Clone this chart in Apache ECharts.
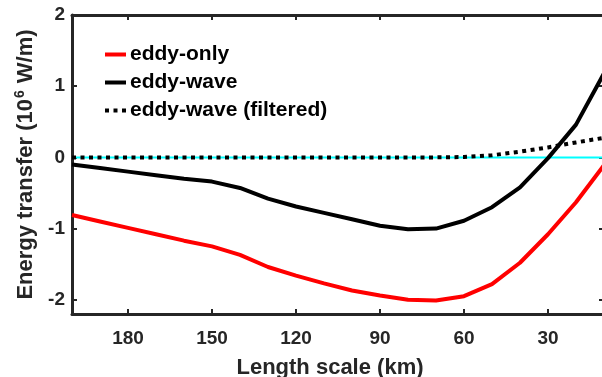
<!DOCTYPE html>
<html>
<head>
<meta charset="utf-8">
<script src="https://cdn.jsdelivr.net/npm/echarts@6/dist/echarts.min.js"></script>
<style>
  html, body { margin: 0; padding: 0; background: #fff; }
  #chart { width: 602px; height: 377px; }
</style>
</head>
<body>
<div id="chart"></div>
<script>
// length scale (km)
const lengthKm = [200, 190, 180, 170, 160, 150, 140, 130, 120, 110, 100, 90, 80, 70, 60, 50, 40, 30, 20, 10]
const eddyOnly = [-0.81, -0.90, -0.99, -1.08, -1.17, -1.25, -1.37, -1.54, -1.66, -1.77, -1.87, -1.94, -2.00, -2.01, -1.95, -1.78, -1.48, -1.08, -0.63, -0.11]
const eddyWave = [-0.10, -0.15, -0.20, -0.25, -0.30, -0.34, -0.43, -0.58, -0.69, -0.78, -0.87, -0.96, -1.01, -1.00, -0.89, -0.70, -0.42, -0.01, 0.46, 1.18]
const eddyWaveFiltered = [0, 0, 0, 0, 0, 0, 0, 0, 0, 0, 0, 0, 0, 0, 0.005, 0.03, 0.08, 0.14, 0.21, 0.275]
const zeroLine = [0, 0, 0, 0, 0, 0, 0, 0, 0, 0, 0, 0, 0, 0, 0, 0, 0, 0, 0, 0]

const xTicks = [180, 150, 120, 90, 60, 30]
const yTicks = [-2, -1, 0, 1, 2]

const axisColor = '#262626'
const font = '"Liberation Sans", Arial, sans-serif'

const pairs = (ys) => lengthKm.map((x, i) => [x, ys[i]])

const chart = echarts.init(document.getElementById('chart'))

const frameLine = { show: true, onZero: false, lineStyle: { color: axisColor, width: 3 } }
const innerTick = (vals) => ({
  show: true,
  inside: true,
  length: 5,
  customValues: vals,
  lineStyle: { color: axisColor, width: 2 },
})

const option = {
  animation: false,
  textStyle: { fontFamily: font },
  grid: { left: 72, right: -2, top: 15, bottom: 63, containLabel: false, outerBoundsMode: 'none' },
  legend: {
    orient: 'vertical',
    left: 103,
    top: 43,
    padding: 0,
    itemWidth: 21,
    itemHeight: 14,
    itemGap: 5,
    itemStyle: { opacity: 0 },
    lineStyle: { width: 4 },
    data: ['eddy-only', 'eddy-wave', 'eddy-wave (filtered)'],
    textStyle: { fontSize: 21, fontWeight: 'bold', color: '#000', lineHeight: 23, padding: [0, 0, 0, -1] },
  },
  xAxis: [
    {
      type: 'value',
      min: 10,
      max: 200,
      inverse: true,
      axisLine: frameLine,
      axisTick: innerTick(xTicks),
      splitLine: { show: false },
      axisLabel: {
        customValues: xTicks,
        margin: 15,
        fontSize: 19,
        fontWeight: 'bold',
        color: axisColor,
      },
      name: 'Length scale (km)',
      nameLocation: 'middle',
      nameGap: 43,
      nameTextStyle: { fontSize: 22, fontWeight: 'bold', color: axisColor, padding: [0, 16, 0, 0] },
    },
    {
      type: 'value',
      position: 'top',
      min: 10,
      max: 200,
      inverse: true,
      axisLine: frameLine,
      axisTick: innerTick(xTicks),
      axisLabel: { show: false },
      splitLine: { show: false },
    },
  ],
  yAxis: [
    {
      type: 'value',
      min: -2.2,
      max: 2,
      axisLine: frameLine,
      axisTick: innerTick(yTicks),
      splitLine: { show: false },
      axisLabel: {
        customValues: yTicks,
        margin: 7,
        fontSize: 19,
        fontWeight: 'bold',
        color: axisColor,
      },
      name: '{n|Energy transfer (10}{sup|6}{n| W/m)}',
      nameLocation: 'middle',
      nameGap: 31,
      nameTextStyle: {
        rich: {
          n: { fontSize: 22, fontWeight: 'bold', color: axisColor, fontFamily: font, lineHeight: 26 },
          sup: { fontSize: 14, fontWeight: 'bold', color: axisColor, fontFamily: font, verticalAlign: 'top', lineHeight: 26, padding: [0, 1, 10, 1] },
        },
      },
    },
    {
      type: 'value',
      position: 'right',
      min: -2.2,
      max: 2,
      axisLine: frameLine,
      axisTick: innerTick(yTicks),
      axisLabel: { show: false },
      splitLine: { show: false },
    },
  ],
  series: [
    {
      name: 'zero',
      type: 'line',
      data: pairs(zeroLine),
      symbol: 'none',
      lineStyle: { color: '#00FFFF', width: 2 },
      silent: true,
    },
    {
      name: 'eddy-only',
      type: 'line',
      data: pairs(eddyOnly),
      symbol: 'none',
      color: '#FF0000',
      lineStyle: { color: '#FF0000', width: 4 },
    },
    {
      name: 'eddy-wave',
      type: 'line',
      data: pairs(eddyWave),
      symbol: 'none',
      color: '#000000',
      lineStyle: { color: '#000000', width: 4 },
    },
    {
      name: 'eddy-wave (filtered)',
      type: 'line',
      data: pairs(eddyWaveFiltered),
      symbol: 'none',
      color: '#000000',
      lineStyle: { color: '#000000', width: 4, type: [4, 4.5], cap: 'butt' },
    },
  ],
}

option && chart.setOption(option)
</script>
</body>
</html>
